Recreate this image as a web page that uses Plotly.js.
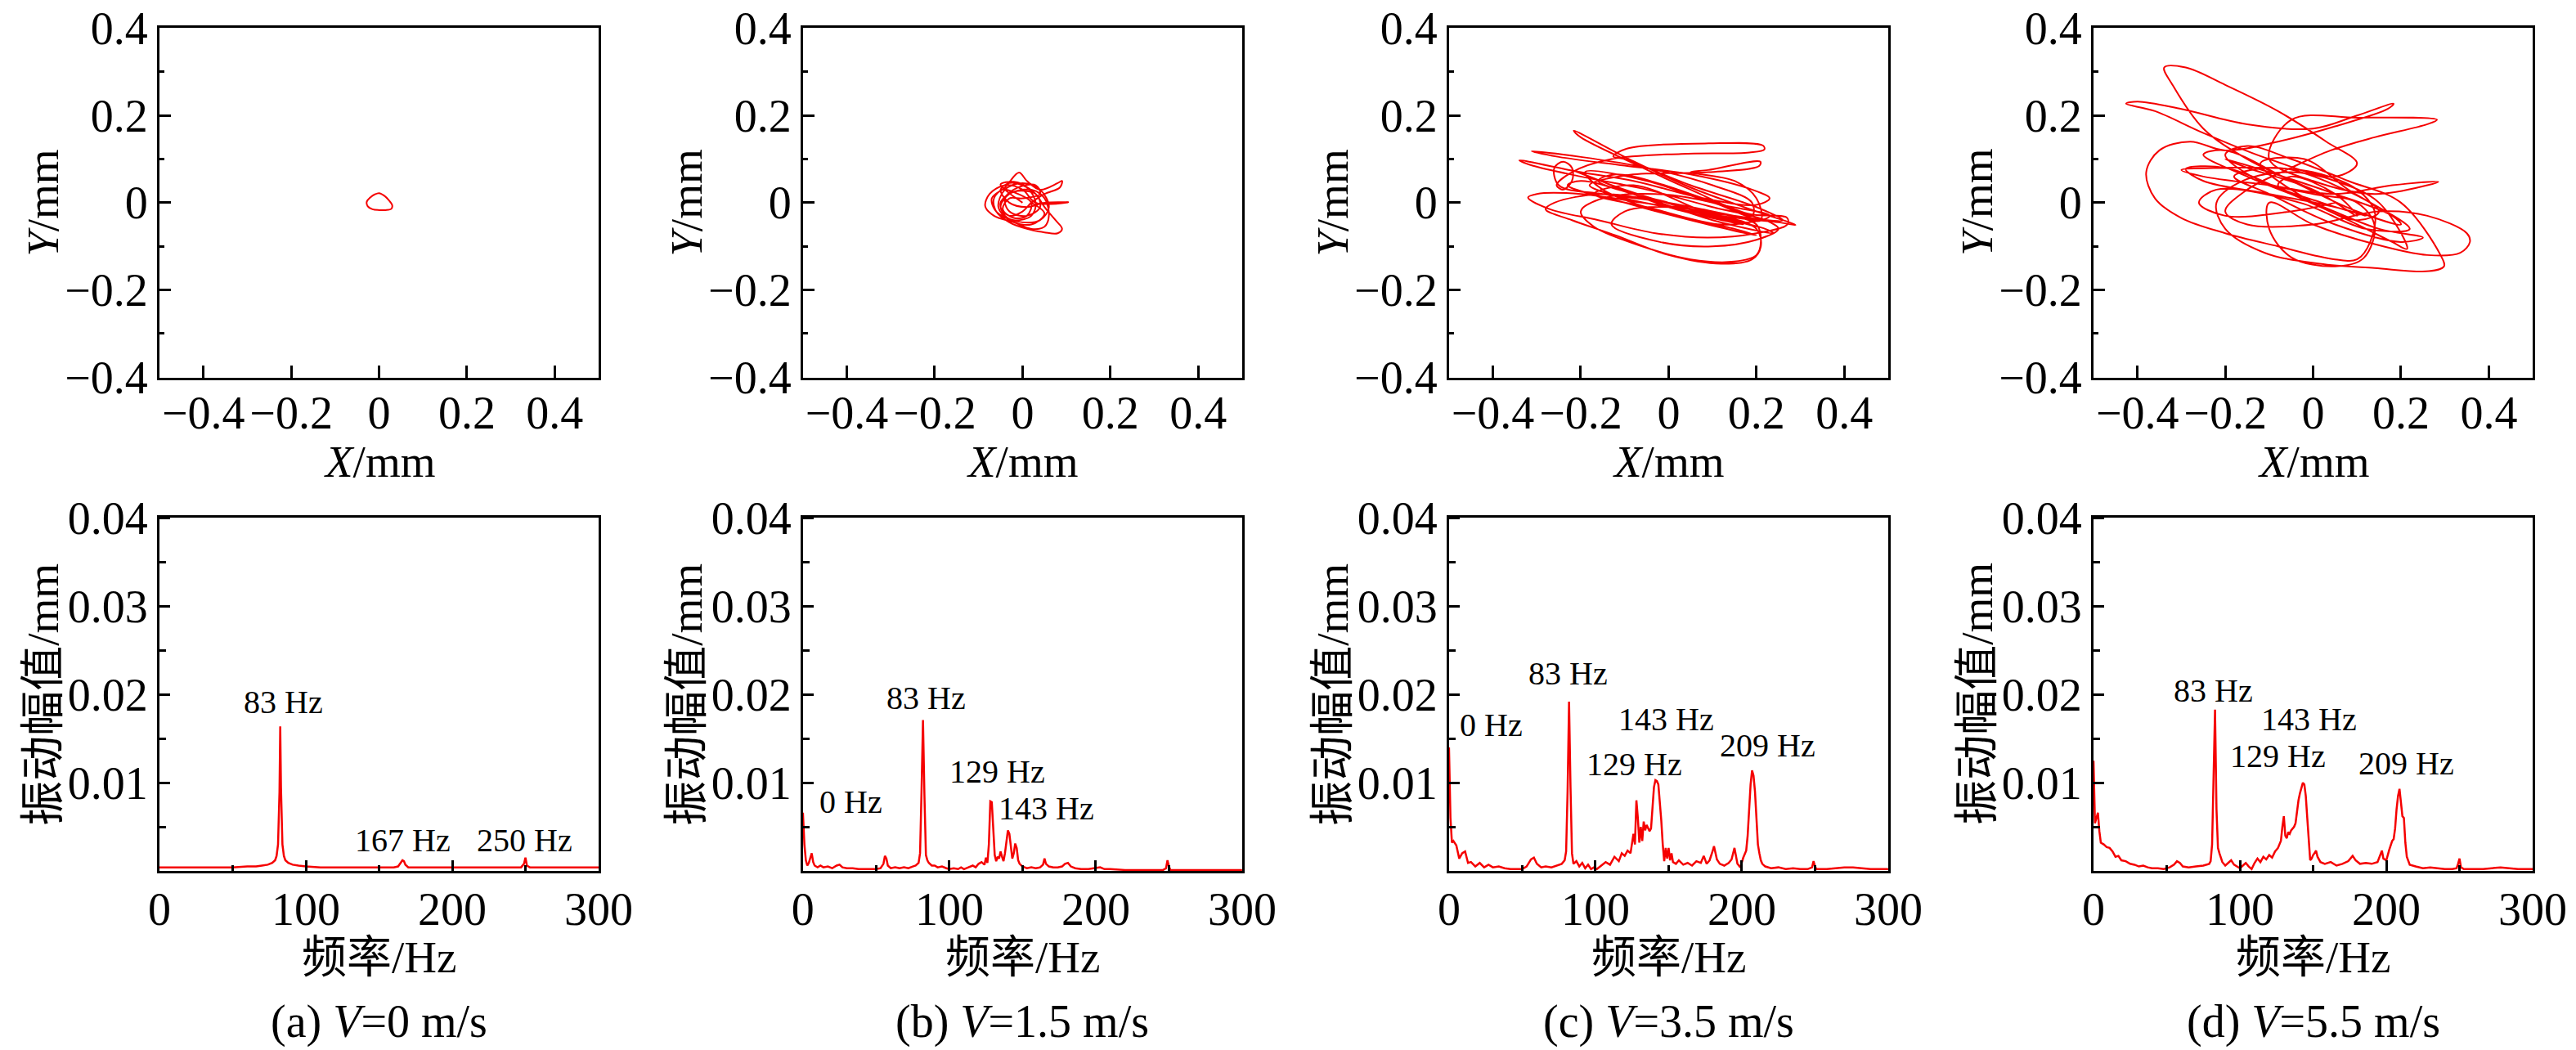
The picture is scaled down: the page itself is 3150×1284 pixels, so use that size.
<!DOCTYPE html>
<html>
<head>
<meta charset="utf-8">
<script src="https://cdn.plot.ly/plotly-3.0.1.min.js"></script>
<style>
  body { margin: 0; padding: 0; background: #fff; }
  #chart { width: 3150px; height: 1284px; }
</style>
</head>
<body>
<div id="chart"></div>
<script>
// ---- axis orbit data (X/mm, Y/mm) ----
var orbitAX = [0.000, 0.012, 0.022, 0.030, 0.028, 0.015, 0.000, -0.015, -0.026, -0.028, -0.020, -0.010, 0.000];
var orbitAY = [0.022, 0.016, 0.006, -0.006, -0.014, -0.017, -0.017, -0.015, -0.008, 0.002, 0.012, 0.019, 0.022];

var orbitBX = [0.00, -0.04, -0.05, -0.02, 0.01, 0.03, 0.02, -0.02, -0.06, -0.07,
  -0.04, -0.008, 0.01, 0.04, 0.08, 0.09, 0.085, 0.05, 0.02, 0.00,
  -0.03, -0.05, -0.03, 0.02, 0.05, 0.06, 0.05, 0.02, -0.02, -0.065,
  -0.085, -0.075, -0.04, 0.00, 0.03, 0.104, 0.05, 0.01, -0.03, -0.05,
  -0.03, 0.00, 0.03, 0.05, 0.075, 0.09, 0.08, 0.05, 0.01, -0.03,
  -0.06, -0.065, -0.045, -0.01, 0.02, 0.01, -0.02, -0.045, -0.03, 0.00,
  0.04, 0.03, -0.01, -0.04, -0.03, 0.01, 0.04, 0.03, -0.02, -0.05,
  -0.04, 0.00, 0.04, 0.06, 0.04, 0.00, -0.04, -0.055, -0.03, 0.02,
  0.05, 0.02];
var orbitBY = [0.00, 0.03, 0.042, 0.048, 0.035, 0.00, -0.03, -0.04, -0.02, 0.01,
  0.035, 0.069, 0.05, 0.03, 0.045, 0.05, 0.035, 0.02, 0.00, -0.02,
  -0.03, -0.01, 0.02, 0.03, 0.01, -0.03, -0.055, -0.06, -0.045, -0.03,
  -0.008, 0.02, 0.04, 0.03, 0.00, 0.001, 0.00, -0.01, 0.00, 0.03,
  0.045, 0.04, 0.02, -0.01, -0.04, -0.06, -0.07, -0.068, -0.06, -0.045,
  -0.02, 0.01, 0.03, 0.02, 0.00, -0.03, -0.035, -0.015, 0.01, 0.01,
  0.02, 0.04, 0.035, 0.01, -0.02, -0.03, -0.01, 0.02, 0.025, 0.00,
  -0.03, -0.045, -0.04, -0.01, 0.03, 0.045, 0.03, -0.01, -0.04, -0.05,
  -0.025, 0.00];

var orbitCX = [0.00, 0.12, 0.25, 0.289, 0.20, 0.05, -0.08, -0.216, -0.20, -0.08,
  0.05, 0.18, 0.27, 0.27, 0.20, 0.09, -0.03, -0.16, -0.27, -0.32,
  -0.30, -0.20, -0.06, 0.08, 0.20, 0.21, 0.20, 0.15, 0.05, -0.06,
  -0.17, -0.20, -0.15, -0.03, 0.10, 0.19, 0.19, 0.10, -0.05, -0.20,
  -0.312, -0.25, -0.10, 0.05, 0.19, 0.23, 0.20, 0.08, -0.08, -0.20,
  -0.34, -0.31, -0.20, -0.05, 0.10, 0.22, 0.25, 0.20, 0.10, -0.02,
  -0.13, -0.10, 0.00, 0.12, 0.20, 0.21, 0.19, 0.12, 0.00, -0.12,
  -0.22, -0.28, -0.26, -0.15, 0.00, 0.15, 0.26, 0.20, 0.05, -0.10,
  -0.126, -0.095, 0.091, 0.215, 0.218, 0.184, 0.029, -0.13, -0.22, -0.255,
  -0.24, -0.22, -0.22, -0.24, -0.26, -0.25, -0.15, 0.00, 0.15, 0.21,
  0.20, 0.15, 0.05, 0.09, 0.209, 0.206, 0.09, -0.095, -0.18, -0.10,
  0.05, 0.17, 0.00, -0.18, -0.22, -0.10, 0.10, 0.22, 0.24, 0.10,
  -0.05, -0.20, -0.23, -0.10, 0.05, 0.20, 0.15, -0.02, -0.15, -0.19,
  -0.05, 0.10, 0.23, 0.18, 0.00, -0.16, -0.12, 0.05, 0.19, 0.12,
  -0.05, -0.17, -0.08, 0.08, 0.20];
var orbitCY = [0.00, -0.03, -0.045, -0.051, -0.02, 0.035, 0.095, 0.165, 0.15, 0.09,
  0.03, -0.025, -0.035, -0.05, -0.07, -0.08, -0.07, -0.04, -0.015, 0.012,
  0.02, 0.02, 0.00, -0.02, -0.05, -0.09, -0.12, -0.135, -0.13, -0.10,
  -0.055, -0.02, 0.01, 0.02, 0.00, -0.03, 0.00, 0.04, 0.08, 0.105,
  0.118, 0.105, 0.085, 0.065, 0.03, 0.01, -0.005, 0.01, 0.05, 0.07,
  0.097, 0.085, 0.06, 0.03, -0.01, -0.04, -0.06, -0.085, -0.10, -0.09,
  -0.05, -0.02, -0.01, -0.03, -0.06, -0.10, -0.13, -0.14, -0.12, -0.075,
  -0.04, -0.015, 0.00, 0.02, 0.00, -0.03, -0.04, -0.01, 0.04, 0.10,
  0.106, 0.124, 0.136, 0.131, 0.122, 0.115, 0.112, 0.10, 0.07, 0.04,
  0.03, 0.05, 0.08, 0.094, 0.08, 0.04, 0.02, 0.00, -0.03, -0.04,
  0.01, 0.05, 0.07, 0.075, 0.094, 0.084, 0.07, 0.063, 0.04, 0.01,
  -0.02, -0.05, -0.01, 0.06, 0.075, 0.03, -0.03, -0.06, -0.07, -0.04,
  0.01, 0.05, 0.04, 0.00, -0.04, -0.075, -0.06, -0.02, 0.03, 0.07,
  0.05, 0.00, -0.03, -0.045, 0.00, 0.05, 0.065, 0.02, -0.04, -0.05,
  -0.01, 0.02, 0.04, -0.02, -0.055];

var orbitDX = [0.00, -0.15, -0.25, -0.32, -0.339, -0.29, -0.20, -0.08, 0.03, 0.10,
  0.05, -0.10, -0.25, -0.36, -0.426, -0.40, -0.30, -0.15, 0.00, 0.10,
  0.183, 0.17, 0.05, -0.08, -0.20, -0.28, -0.35, -0.38, -0.36, -0.30,
  -0.20, -0.08, 0.05, 0.10, 0.13, 0.14, 0.10, 0.00, -0.10, -0.20,
  -0.30, -0.25, -0.10, 0.05, 0.18, 0.285, 0.26, 0.14, 0.00, -0.10,
  -0.05, 0.10, 0.282, 0.26, 0.14, 0.04, -0.05, -0.15, -0.20, -0.15,
  0.00, 0.15, 0.26, 0.35, 0.357, 0.335, 0.26, 0.14, 0.00, -0.10,
  -0.10, -0.05, 0.05, 0.115, 0.14, 0.10, 0.00, -0.12, -0.20, -0.15,
  -0.05, 0.08, 0.20, 0.29, 0.298, 0.264, 0.14, 0.015, -0.11, -0.20,
  -0.22, -0.16, -0.05, 0.05, 0.15, 0.214, 0.18, 0.08, -0.05, -0.20,
  -0.29, -0.25, -0.10, 0.05, 0.12, 0.02, -0.08, -0.05, 0.05, 0.10,
  0.00, -0.15, -0.20, -0.10, 0.05, 0.18, 0.20, 0.10, -0.05, -0.20,
  -0.25, -0.15, 0.00, 0.15, 0.25, 0.20, 0.05, -0.10, -0.18, -0.08,
  0.05, 0.15, 0.10, -0.05, -0.12, -0.02, 0.08, 0.22, 0.12, -0.03,
  -0.22, -0.26, -0.20, -0.05, 0.05];
var orbitDY = [0.03, 0.10, 0.17, 0.27, 0.31, 0.31, 0.27, 0.21, 0.14, 0.09,
  0.06, 0.10, 0.16, 0.21, 0.227, 0.232, 0.215, 0.18, 0.17, 0.20,
  0.227, 0.215, 0.175, 0.14, 0.12, 0.14, 0.12, 0.07, 0.01, -0.035,
  -0.07, -0.10, -0.13, -0.13, -0.09, -0.02, 0.03, 0.07, 0.08, 0.08,
  0.075, 0.06, 0.04, 0.02, 0.04, 0.048, 0.04, 0.02, 0.05, 0.10,
  0.19, 0.195, 0.19, 0.18, 0.15, 0.12, 0.08, 0.03, -0.02, -0.05,
  -0.05, -0.02, -0.03, -0.07, -0.09, -0.115, -0.12, -0.095, -0.05, 0.00,
  -0.06, -0.125, -0.146, -0.127, -0.053, 0.00, 0.02, 0.05, 0.11, 0.13,
  0.10, 0.05, 0.00, -0.12, -0.146, -0.157, -0.15, -0.14, -0.115, -0.06,
  0.00, 0.05, 0.07, 0.05, 0.00, -0.106, -0.09, -0.04, 0.02, 0.08,
  0.077, 0.05, 0.02, -0.01, -0.03, 0.00, 0.04, 0.06, 0.02, -0.03,
  0.03, 0.08, 0.10, 0.07, 0.02, -0.03, -0.05, -0.02, 0.05, 0.12,
  0.11, 0.06, 0.00, -0.06, -0.08, -0.09, -0.05, 0.02, 0.06, 0.08,
  0.04, -0.02, -0.04, 0.03, 0.09, 0.10, 0.03, -0.06, -0.06, 0.00,
  0.03, 0.00, -0.03, -0.02, 0.00];

// ---- amplitude spectra (频率/Hz, 振动幅值/mm) ----
var freqA = [0, 10, 20, 30, 40, 50, 60, 66, 70, 74,
  77, 79, 80, 81, 82, 82.5, 83, 84, 85, 86,
  88, 91, 95, 100, 110, 120, 130, 140, 150, 160,
  163, 165, 166, 167, 168, 170, 180, 200, 220, 240,
  247, 249, 250, 251, 253, 270, 300];
var ampA = [0.0004, 0.0004, 0.0004, 0.0004, 0.0004, 0.0004, 0.0005, 0.0005, 0.0006, 0.0007,
  0.0009, 0.0012, 0.0017, 0.0030, 0.0090, 0.0164, 0.0095, 0.0030, 0.0017, 0.0012,
  0.0009, 0.0007, 0.0006, 0.0005, 0.0004, 0.0004, 0.0004, 0.0004, 0.0004, 0.0004,
  0.0005, 0.0009, 0.0012, 0.0011, 0.0007, 0.0004, 0.0004, 0.0004, 0.0004, 0.0004,
  0.0004, 0.0008, 0.0015, 0.0006, 0.0004, 0.0004, 0.0004];

var freqB = [0, 1, 2, 3, 4, 5, 6, 7, 8, 10,
  12, 14, 17, 20, 23, 25, 27, 30, 34, 38,
  42, 46, 50, 53, 55, 56, 57, 58, 60, 63,
  66, 69, 72, 75, 77, 79, 80, 81, 82, 83,
  84, 85, 86, 88, 90, 92, 95, 98, 100, 103,
  106, 108, 110, 113, 116, 118, 120, 122, 124, 125,
  126, 127, 128, 129, 130, 131, 132, 133, 134, 135,
  136, 137, 138, 139, 140, 141, 142, 143, 144, 145,
  146, 147, 148, 150, 153, 156, 159, 162, 164, 165,
  166, 168, 171, 174, 177, 179, 181, 183, 186, 190,
  195, 200, 203, 206, 210, 220, 230, 240, 246, 248,
  249, 250, 251, 255, 265, 275, 285, 300];
var ampB = [0.0066, 0.0030, 0.0012, 0.0006, 0.0009, 0.0016, 0.0020, 0.0010, 0.0006, 0.0004,
  0.0006, 0.0004, 0.0005, 0.0003, 0.0006, 0.0007, 0.0004, 0.0003, 0.0003, 0.0002,
  0.0002, 0.0002, 0.0002, 0.0003, 0.0008, 0.0017, 0.0014, 0.0006, 0.0003, 0.0004,
  0.0003, 0.0004, 0.0003, 0.0005, 0.0006, 0.0009, 0.0020, 0.0090, 0.0171, 0.0085,
  0.0018, 0.0012, 0.0009, 0.0006, 0.0006, 0.0004, 0.0005, 0.0003, 0.0002, 0.0003,
  0.0002, 0.0004, 0.0002, 0.0004, 0.0006, 0.0004, 0.0008, 0.0010, 0.0007, 0.0015,
  0.0009, 0.0030, 0.0079, 0.0078, 0.0050, 0.0018, 0.0011, 0.0016, 0.0014, 0.0022,
  0.0016, 0.0011, 0.0020, 0.0032, 0.0046, 0.0042, 0.0028, 0.0014, 0.0020, 0.0031,
  0.0026, 0.0012, 0.0008, 0.0005, 0.0003, 0.0004, 0.0003, 0.0004, 0.0007, 0.0014,
  0.0008, 0.0005, 0.0004, 0.0004, 0.0005, 0.0008, 0.0009, 0.0005, 0.0003, 0.0002,
  0.0002, 0.0003, 0.0004, 0.0002, 0.0002, 0.0001, 0.0001, 0.0001, 0.0001, 0.0003,
  0.0012, 0.0005, 0.0001, 0.0001, 0.0001, 0.0001, 0.0001, 0.0001];

var freqC = [0, 1, 2, 3, 5, 7, 9, 11, 13, 15,
  18, 21, 24, 27, 30, 34, 38, 42, 46, 50,
  53, 56, 58, 60, 63, 66, 70, 74, 77, 79,
  80, 81, 82, 83, 84, 85, 87, 89, 91, 93,
  95, 97, 99, 101, 104, 107, 110, 113, 116, 118,
  120, 122, 124, 126, 127, 128, 129, 130, 131, 132,
  133, 134, 135, 136, 137, 138, 139, 140, 141, 142,
  143, 144, 145, 146, 147, 148, 149, 150, 151, 152,
  153, 155, 157, 160, 163, 166, 169, 172, 174, 176,
  178, 180, 181, 183, 185, 188, 191, 193, 195, 197,
  199, 201, 203, 204, 205, 206, 207, 208, 209, 210,
  211, 212, 213, 214, 216, 220, 225, 230, 235, 240,
  245, 248, 249, 250, 251, 253, 258, 264, 270, 276,
  282, 288, 294, 300];
var ampC = [0.0140, 0.0060, 0.0032, 0.0034, 0.0029, 0.0014, 0.0020, 0.0022, 0.0009, 0.0010,
  0.0005, 0.0009, 0.0004, 0.0007, 0.0004, 0.0005, 0.0003, 0.0002, 0.0002, 0.0002,
  0.0005, 0.0013, 0.0015, 0.0008, 0.0004, 0.0005, 0.0004, 0.0006, 0.0008, 0.0012,
  0.0022, 0.0090, 0.0192, 0.0095, 0.0020, 0.0008, 0.0011, 0.0005, 0.0009, 0.0003,
  0.0007, 0.0002, 0.0004, 0.0002, 0.0006, 0.0010, 0.0007, 0.0016, 0.0011, 0.0020,
  0.0017, 0.0023, 0.0020, 0.0042, 0.0030, 0.0080, 0.0060, 0.0032, 0.0050, 0.0034,
  0.0056, 0.0046, 0.0052, 0.0049, 0.0045, 0.0048, 0.0070, 0.0095, 0.0103, 0.0102,
  0.0098, 0.0080, 0.0057, 0.0030, 0.0011, 0.0026, 0.0014, 0.0026, 0.0012, 0.0020,
  0.0010, 0.0008, 0.0012, 0.0007, 0.0009, 0.0006, 0.0011, 0.0009, 0.0017, 0.0008,
  0.0012, 0.0022, 0.0028, 0.0013, 0.0008, 0.0006, 0.0009, 0.0013, 0.0026, 0.0008,
  0.0004, 0.0015, 0.0023, 0.0040, 0.0075, 0.0098, 0.0114, 0.0108, 0.0090, 0.0060,
  0.0030, 0.0020, 0.0012, 0.0008, 0.0005, 0.0003, 0.0004, 0.0002, 0.0003, 0.0002,
  0.0002, 0.0004, 0.0011, 0.0005, 0.0002, 0.0002, 0.0002, 0.0003, 0.0004, 0.0004,
  0.0003, 0.0002, 0.0002, 0.0002];

var freqD = [0, 1, 2, 3, 4, 5, 7, 9, 11, 13,
  15, 17, 19, 22, 25, 28, 31, 34, 37, 40,
  44, 48, 52, 55, 57, 59, 61, 65, 70, 75,
  79, 80, 81, 82, 83, 84, 85, 86, 88, 90,
  92, 94, 96, 98, 100, 102, 104, 106, 108, 110,
  112, 114, 116, 118, 120, 122, 124, 126, 128, 129,
  130, 131, 132, 133, 134, 135, 137, 138, 139, 140,
  141, 142, 143, 144, 145, 146, 147, 148, 149, 150,
  151, 152, 153, 155, 158, 162, 166, 170, 174, 177,
  179, 182, 186, 190, 194, 196, 197, 198, 200, 202,
  204, 205, 206, 207, 208, 209, 210, 211, 212, 213,
  214, 216, 220, 225, 230, 235, 240, 245, 248, 249,
  250, 251, 253, 260, 266, 272, 278, 284, 290, 300];
var ampD = [0.0125, 0.0054, 0.0060, 0.0066, 0.0045, 0.0032, 0.0030, 0.0027, 0.0026, 0.0022,
  0.0016, 0.0017, 0.0012, 0.0011, 0.0008, 0.0007, 0.0005, 0.0006, 0.0004, 0.0003,
  0.0003, 0.0002, 0.0004, 0.0007, 0.0011, 0.0009, 0.0005, 0.0004, 0.0005, 0.0006,
  0.0008, 0.0011, 0.0030, 0.0110, 0.0183, 0.0070, 0.0026, 0.0020, 0.0010, 0.0006,
  0.0009, 0.0012, 0.0007, 0.0005, 0.0003, 0.0006, 0.0009, 0.0005, 0.0002, 0.0009,
  0.0014, 0.0010, 0.0016, 0.0013, 0.0018, 0.0015, 0.0022, 0.0026, 0.0034, 0.0050,
  0.0062, 0.0040, 0.0037, 0.0044, 0.0042, 0.0046, 0.0050, 0.0054, 0.0068, 0.0080,
  0.0088, 0.0094, 0.0100, 0.0098, 0.0085, 0.0060, 0.0030, 0.0012, 0.0014, 0.0018,
  0.0020, 0.0023, 0.0016, 0.0010, 0.0008, 0.0010, 0.0006, 0.0008, 0.0011, 0.0017,
  0.0012, 0.0008, 0.0009, 0.0008, 0.0010, 0.0018, 0.0023, 0.0014, 0.0012, 0.0024,
  0.0034, 0.0036, 0.0048, 0.0070, 0.0085, 0.0093, 0.0080, 0.0062, 0.0060, 0.0032,
  0.0016, 0.0007, 0.0005, 0.0003, 0.0004, 0.0003, 0.0002, 0.0002, 0.0003, 0.0008,
  0.0014, 0.0004, 0.0002, 0.0002, 0.0002, 0.0003, 0.0004, 0.0003, 0.0002, 0.0002];

// peak labels: [panel, text, freq, amp]
var peakLabels = [
  [0, '83 Hz', 84.7, 0.0192], [0, '167 Hz', 166, 0.0035], [0, '250 Hz', 249.6, 0.0035],
  [1, '0 Hz', 32.6, 0.0078], [1, '83 Hz', 84, 0.0196], [1, '129 Hz', 132.6, 0.0113], [1, '143 Hz', 166, 0.0071],
  [2, '0 Hz', 28.7, 0.0166], [2, '83 Hz', 81.6, 0.0224], [2, '143 Hz', 148.2, 0.0172], [2, '129 Hz', 126.5, 0.0121], [2, '209 Hz', 217.4, 0.0142],
  [3, '83 Hz', 81.8, 0.0205], [3, '143 Hz', 147.3, 0.0172], [3, '129 Hz', 125.7, 0.0130], [3, '209 Hz', 213.6, 0.0122]
];
var captions = ['(a) <i>V</i>=0 m/s', '(b) <i>V</i>=1.5 m/s', '(c) <i>V</i>=3.5 m/s', '(d) <i>V</i>=5.5 m/s'];

var orbits = [[orbitAX, orbitAY], [orbitBX, orbitBY], [orbitCX, orbitCY], [orbitDX, orbitDY]];
var spectra = [[freqA, ampA], [freqB, ampB], [freqC, ampC], [freqD, ampD]];

var RED = 'rgb(245,0,0)';
var FONT = 'Liberation Serif, "Times New Roman", "Noto Sans CJK SC", serif';
var cols = [[0.0619, 0.2324], [0.3117, 0.4822], [0.5625, 0.7330], [0.8127, 0.9832]];
var topRow = [0.6404, 0.9735];
var botRow = [0.1706, 0.5072];

var data = [];
var layout = {
  width: 3150, height: 1284,
  margin: {l: 0, r: 0, t: 0, b: 0},
  paper_bgcolor: 'white', plot_bgcolor: 'white',
  showlegend: false,
  font: {family: FONT, size: 56, color: 'black'},
  annotations: []
};

function axisBase(domain) {
  return {
    domain: domain, showgrid: false, zeroline: false,
    showline: true, mirror: true, linecolor: 'black', linewidth: 3,
    ticks: 'inside', tickcolor: 'black', tickwidth: 3,
    tickfont: {family: FONT, size: 56, color: 'black'},
    ticklabeloverflow: 'allow',
    fixedrange: true
  };
}

for (var i = 0; i < 4; i++) {
  var nTop = i + 1, nBot = i + 5;
  data.push({
    x: orbits[i][0], y: orbits[i][1], type: 'scatter', mode: 'lines',
    line: {color: RED, width: 2, shape: 'spline', smoothing: 1},
    xaxis: 'x' + nTop, yaxis: 'y' + nTop, hoverinfo: 'skip'
  });
  data.push({
    x: spectra[i][0], y: spectra[i][1], type: 'scatter', mode: 'lines',
    line: {color: RED, width: 2.5},
    xaxis: 'x' + nBot, yaxis: 'y' + nBot, hoverinfo: 'skip'
  });

  var xt = axisBase(cols[i]);
  xt.range = [-0.5, 0.5]; xt.tickvals = [-0.4, -0.2, 0, 0.2, 0.4]; xt.ticklen = 15;
  xt.ticklabelstandoff = -8;
  xt.anchor = 'y' + nTop;
  var yt = axisBase(topRow);
  yt.range = [-0.401, 0.401]; yt.tickvals = [-0.4, -0.2, 0, 0.2, 0.4]; yt.ticklen = 14;
  yt.minor = {tickvals: [-0.3, -0.1, 0.1, 0.3], ticks: 'inside', ticklen: 6, tickwidth: 3, tickcolor: 'black'};
  yt.anchor = 'x' + nTop;

  var xb = axisBase(cols[i]);
  xb.range = [0, 300]; xb.tickvals = [0, 100, 200, 300]; xb.ticklen = 13;
  xb.ticklabelstandoff = -4;
  xb.minor = {tickvals: [50, 150, 250], ticks: 'inside', ticklen: 7, tickwidth: 3, tickcolor: 'black'};
  xb.anchor = 'y' + nBot;
  var yb = axisBase(botRow);
  yb.range = [0, 0.0401]; yb.tickvals = [0.01, 0.02, 0.03, 0.04]; yb.ticklen = 13;
  yb.minor = {tickvals: [0.005, 0.015, 0.025, 0.035], ticks: 'inside', ticklen: 8, tickwidth: 3, tickcolor: 'black'};
  yb.anchor = 'x' + nBot;

  layout['xaxis' + (nTop === 1 ? '' : nTop)] = xt;
  layout['yaxis' + (nTop === 1 ? '' : nTop)] = yt;
  layout['xaxis' + nBot] = xb;
  layout['yaxis' + nBot] = yb;

  var cx = (cols[i][0] + cols[i][1]) / 2;
  var yx = cols[i][0] - 142 / 3150;
  var titleFont = {family: FONT, size: 55, color: 'black'};
  layout.annotations.push(
    {text: '<i>X</i>/mm', xref: 'paper', yref: 'paper', x: cx, y: 0.5605, showarrow: false, font: titleFont, xanchor: 'center', yanchor: 'middle'},
    {text: '<i>Y</i>/mm', xref: 'paper', yref: 'paper', x: yx, y: (topRow[0] + topRow[1]) / 2, textangle: -90, showarrow: false, font: titleFont, xanchor: 'center', yanchor: 'middle'},
    {text: '频率/Hz', xref: 'paper', yref: 'paper', x: cx, y: 0.0885, showarrow: false, font: titleFont, xanchor: 'center', yanchor: 'middle'},
    {text: '振动幅值/mm', xref: 'paper', yref: 'paper', x: yx, y: (botRow[0] + botRow[1]) / 2, textangle: -90, showarrow: false, font: titleFont, xanchor: 'center', yanchor: 'middle'},
    {text: captions[i], xref: 'paper', yref: 'paper', x: cx, y: 0.0265, showarrow: false, font: {family: FONT, size: 56, color: 'black'}, xanchor: 'center', yanchor: 'middle'}
  );
}

peakLabels.forEach(function (p) {
  var n = p[0] + 5;
  layout.annotations.push({
    text: p[1], xref: 'x' + n, yref: 'y' + n, x: p[2], y: p[3],
    showarrow: false, xanchor: 'center', yanchor: 'middle',
    font: {family: FONT, size: 40, color: 'black'}
  });
});

Plotly.newPlot('chart', data, layout, {displayModeBar: false, staticPlot: true});
</script>
</body>
</html>
